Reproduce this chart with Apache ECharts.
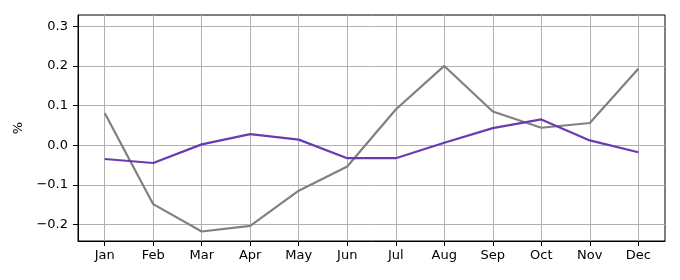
<!DOCTYPE html>
<html>
<head>
<meta charset="utf-8">
<script src="https://cdn.jsdelivr.net/npm/echarts@6/dist/echarts.min.js"></script>
<style>html,body{margin:0;padding:0;background:#fff}#c{width:680px;height:280px}</style>
</head>
<body>
<div id="c"></div>
<script>
const months = ['Jan','Feb','Mar','Apr','May','Jun','Jul','Aug','Sep','Oct','Nov','Dec'];
const grayValues = [0.081, -0.149, -0.218, -0.204, -0.115, -0.054, 0.090, 0.200, 0.085, 0.044, 0.056, 0.193];
const purpleValues = [-0.035, -0.045, 0.002, 0.028, 0.014, -0.033, -0.033, 0.006, 0.043, 0.065, 0.012, -0.018];
const yTicks = [-0.2, -0.1, 0.0, 0.1, 0.2, 0.3];
const xTicks = months.map((m, i) => i);

const chart = echarts.init(document.getElementById('c'));
const font = 'DejaVu Sans';
chart.setOption({
  animation: false,
  grid: { left: 78, right: 15, top: 15, bottom: 39, show: true, borderColor: '#000', borderWidth: 1 },
  xAxis: {
    type: 'value', min: -0.55, max: 11.55, position: 'bottom',
    axisLine: { show: true, onZero: false, lineStyle: { color: '#000', width: 1 } },
    axisTick: { show: true, inside: false, customValues: xTicks, length: 5, lineStyle: { color: '#000', width: 1 } },
    axisLabel: { customValues: xTicks, formatter: v => months[Math.round(v)], color: '#000', fontFamily: font, fontSize: 13, margin: 8 },
    splitLine: { show: true, customValues: xTicks, lineStyle: { color: '#b0b0b0', width: 1 } }
  },
  yAxis: {
    type: 'value', min: -0.242, max: 0.3286, position: 'left',
    name: '%', nameLocation: 'middle', nameGap: 46, nameRotate: 90,
    nameTextStyle: { color: '#000', fontFamily: font, fontSize: 13 },
    axisLine: { show: true, onZero: false, lineStyle: { color: '#000', width: 1 } },
    axisTick: { show: true, inside: false, customValues: yTicks, length: 5, lineStyle: { color: '#000', width: 1 } },
    axisLabel: { customValues: yTicks, formatter: v => (v < 0 ? '\u2212' : '') + Math.abs(v).toFixed(1), color: '#000', fontFamily: font, fontSize: 13, margin: 10 },
    splitLine: { show: true, customValues: yTicks, lineStyle: { color: '#b0b0b0', width: 1 } }
  },
  series: [
    { type: 'line', data: grayValues.map((v, i) => [i, v]), symbol: 'none', lineStyle: { color: '#808080', width: 2.2 }, z: 3 },
    { type: 'line', data: purpleValues.map((v, i) => [i, v]), symbol: 'none', lineStyle: { color: '#6a3ab2', width: 2.2 }, z: 4 }
  ]
});
</script>
</body>
</html>
